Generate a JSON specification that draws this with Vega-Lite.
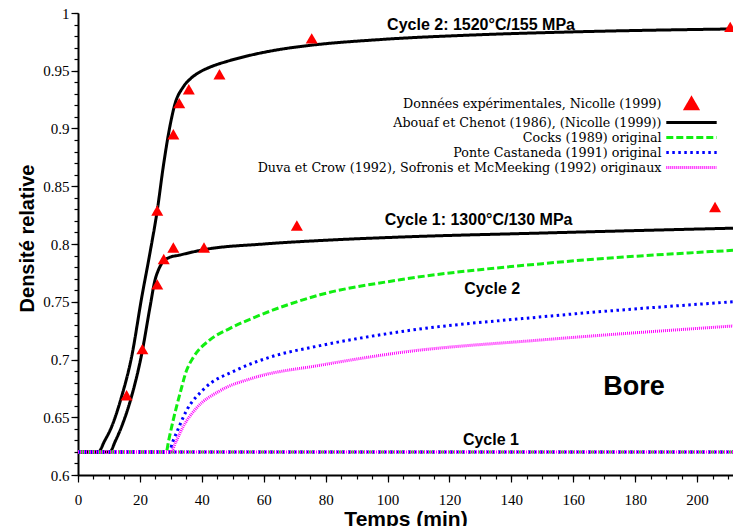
{
  "$schema": "https://vega.github.io/schema/vega-lite/v6.json",
  "width": 655,
  "height": 462,
  "autosize": {"type": "none"},
  "padding": {"left": 78, "top": 13, "right": 0, "bottom": 51},
  "background": "white",
  "config": {
    "view": {"stroke": null},
    "axis": {"grid": false, "ticks": true, "domainColor": "black", "domainWidth": 2, "tickColor": "black", "tickWidth": 1.2, "labelColor": "black", "titleColor": "black", "labelFont": "Liberation Serif", "labelFontSize": 15, "labelFontWeight": "normal", "titleFont": "Liberation Sans", "titleFontWeight": "bold", "titleFontSize": 20, "labelFlush": false, "labelOverlap": false}
  },
  "resolve": {"axis": {"x": "independent", "y": "independent"}},
  "datasets": {
    "curves": [
      {"m": "A", "c": 2, "t": 0, "d": 0.62},
      {"m": "A", "c": 2, "t": 6.6, "d": 0.62},
      {"m": "A", "c": 2, "t": 8.5, "d": 0.629},
      {"m": "A", "c": 2, "t": 10.9, "d": 0.642},
      {"m": "A", "c": 2, "t": 14.1, "d": 0.668},
      {"m": "A", "c": 2, "t": 17.3, "d": 0.702},
      {"m": "A", "c": 2, "t": 20.6, "d": 0.754},
      {"m": "A", "c": 2, "t": 23.3, "d": 0.793},
      {"m": "A", "c": 2, "t": 25.6, "d": 0.829},
      {"m": "A", "c": 2, "t": 27.6, "d": 0.868},
      {"m": "A", "c": 2, "t": 29.7, "d": 0.902},
      {"m": "A", "c": 2, "t": 31.3, "d": 0.921},
      {"m": "A", "c": 2, "t": 34, "d": 0.936},
      {"m": "A", "c": 2, "t": 36.5, "d": 0.9435},
      {"m": "A", "c": 2, "t": 39.4, "d": 0.949},
      {"m": "A", "c": 2, "t": 43, "d": 0.9535},
      {"m": "A", "c": 2, "t": 48, "d": 0.958},
      {"m": "A", "c": 2, "t": 55, "d": 0.963},
      {"m": "A", "c": 2, "t": 65.3, "d": 0.9685},
      {"m": "A", "c": 2, "t": 75, "d": 0.972},
      {"m": "A", "c": 2, "t": 97.6, "d": 0.977},
      {"m": "A", "c": 2, "t": 129.9, "d": 0.9812},
      {"m": "A", "c": 2, "t": 162.2, "d": 0.9838},
      {"m": "A", "c": 2, "t": 211.6, "d": 0.9862},
      {"m": "A", "c": 1, "t": 0, "d": 0.62},
      {"m": "A", "c": 1, "t": 10.3, "d": 0.62},
      {"m": "A", "c": 1, "t": 12, "d": 0.629},
      {"m": "A", "c": 1, "t": 14.1, "d": 0.642},
      {"m": "A", "c": 1, "t": 17.3, "d": 0.668},
      {"m": "A", "c": 1, "t": 20.6, "d": 0.705},
      {"m": "A", "c": 1, "t": 23.3, "d": 0.746},
      {"m": "A", "c": 1, "t": 24.9, "d": 0.769},
      {"m": "A", "c": 1, "t": 25.9, "d": 0.777},
      {"m": "A", "c": 1, "t": 27, "d": 0.783},
      {"m": "A", "c": 1, "t": 29.2, "d": 0.788},
      {"m": "A", "c": 1, "t": 33, "d": 0.7905},
      {"m": "A", "c": 1, "t": 40.5, "d": 0.795},
      {"m": "A", "c": 1, "t": 60, "d": 0.8},
      {"m": "A", "c": 1, "t": 78.2, "d": 0.803},
      {"m": "A", "c": 1, "t": 104, "d": 0.806},
      {"m": "A", "c": 1, "t": 150, "d": 0.8095},
      {"m": "A", "c": 1, "t": 211.6, "d": 0.8137},
      {"m": "C", "c": 2, "t": 0, "d": 0.62},
      {"m": "C", "c": 2, "t": 28.5, "d": 0.62},
      {"m": "C", "c": 2, "t": 29.3, "d": 0.63},
      {"m": "C", "c": 2, "t": 30.8, "d": 0.648},
      {"m": "C", "c": 2, "t": 33, "d": 0.671},
      {"m": "C", "c": 2, "t": 35, "d": 0.69},
      {"m": "C", "c": 2, "t": 37.3, "d": 0.702},
      {"m": "C", "c": 2, "t": 42.6, "d": 0.717},
      {"m": "C", "c": 2, "t": 49.1, "d": 0.727},
      {"m": "C", "c": 2, "t": 56.6, "d": 0.736},
      {"m": "C", "c": 2, "t": 78.2, "d": 0.756},
      {"m": "C", "c": 2, "t": 104, "d": 0.769},
      {"m": "C", "c": 2, "t": 150, "d": 0.783},
      {"m": "C", "c": 2, "t": 211.6, "d": 0.7945},
      {"m": "C", "c": 1, "t": 0, "d": 0.62},
      {"m": "C", "c": 1, "t": 211.6, "d": 0.62},
      {"m": "P", "c": 2, "t": 0, "d": 0.62},
      {"m": "P", "c": 2, "t": 29.5, "d": 0.62},
      {"m": "P", "c": 2, "t": 30.5, "d": 0.628},
      {"m": "P", "c": 2, "t": 31.9, "d": 0.637},
      {"m": "P", "c": 2, "t": 35.1, "d": 0.656},
      {"m": "P", "c": 2, "t": 40.5, "d": 0.674},
      {"m": "P", "c": 2, "t": 51.3, "d": 0.691},
      {"m": "P", "c": 2, "t": 62, "d": 0.702},
      {"m": "P", "c": 2, "t": 78.2, "d": 0.712},
      {"m": "P", "c": 2, "t": 104, "d": 0.724},
      {"m": "P", "c": 2, "t": 150, "d": 0.737},
      {"m": "P", "c": 2, "t": 211.6, "d": 0.75},
      {"m": "P", "c": 1, "t": 0, "d": 0.62},
      {"m": "P", "c": 1, "t": 211.6, "d": 0.62},
      {"m": "D", "c": 2, "t": 0, "d": 0.62},
      {"m": "D", "c": 2, "t": 30, "d": 0.62},
      {"m": "D", "c": 2, "t": 31.5, "d": 0.628},
      {"m": "D", "c": 2, "t": 34, "d": 0.642},
      {"m": "D", "c": 2, "t": 38.3, "d": 0.658},
      {"m": "D", "c": 2, "t": 45.9, "d": 0.673},
      {"m": "D", "c": 2, "t": 56.6, "d": 0.684},
      {"m": "D", "c": 2, "t": 78.2, "d": 0.695},
      {"m": "D", "c": 2, "t": 104, "d": 0.706},
      {"m": "D", "c": 2, "t": 150, "d": 0.717},
      {"m": "D", "c": 2, "t": 211.6, "d": 0.729},
      {"m": "D", "c": 1, "t": 0, "d": 0.62},
      {"m": "D", "c": 1, "t": 211.6, "d": 0.62}
    ],
    "exp": [
      {"m": "E", "t": 15.7, "d": 0.669},
      {"m": "E", "t": 20.8, "d": 0.709},
      {"m": "E", "t": 25.6, "d": 0.765},
      {"m": "E", "t": 25.6, "d": 0.829},
      {"m": "E", "t": 27.7, "d": 0.787},
      {"m": "E", "t": 30.8, "d": 0.797},
      {"m": "E", "t": 30.8, "d": 0.895},
      {"m": "E", "t": 32.7, "d": 0.922},
      {"m": "E", "t": 35.8, "d": 0.934},
      {"m": "E", "t": 40.7, "d": 0.797},
      {"m": "E", "t": 45.7, "d": 0.947},
      {"m": "E", "t": 70.7, "d": 0.816},
      {"m": "E", "t": 75.5, "d": 0.978},
      {"m": "E", "t": 205.8, "d": 0.832},
      {"m": "E", "t": 210.7, "d": 0.988}
    ],
    "labels": [
      {"t": 130.2, "d": 0.99, "txt": "Cycle 2: 1520°C/155 MPa"},
      {"t": 129.4, "d": 0.8208, "txt": "Cycle 1: 1300°C/130 MPa"},
      {"t": 133.8, "d": 0.761, "txt": "Cycle 2"},
      {"t": 133.4, "d": 0.6303, "txt": "Cycle 1"}
    ],
    "material": [
      {"t": 179.6, "d": 0.676, "txt": "Bore"}
    ]
  },
  "layer": [
    {
      "data": {"name": "curves"},
      "mark": {"type": "line", "interpolate": "monotone", "clip": true},
      "encoding": {
        "x": {
          "field": "t", "type": "quantitative",
          "scale": {"domain": [0, 211.6], "nice": false, "zero": false},
          "axis": {
            "orient": "bottom",
            "title": "Temps (min)",
            "values": [0, 20, 40, 60, 80, 100, 120, 140, 160, 180, 200],
            "format": "d",
            "tickSize": 7,
            "encode": {"ticks": {"update": {"y2": {"value": -7}}}},
            "labelPadding": 10,
            "labelOverlap": false,
            "titleFontSize": 21,
            "titleY": 50,
            "titleBaseline": "alphabetic"
          }
        },
        "y": {
          "field": "d", "type": "quantitative",
          "scale": {"domain": [0.6, 1], "nice": false, "zero": false},
          "axis": {
            "orient": "left",
            "title": "Densité relative",
            "values": [0.6, 0.65, 0.7, 0.75, 0.8, 0.85, 0.9, 0.95, 1],
            "format": ".2~f",
            "tickSize": 7,
            "encode": {"ticks": {"update": {"x2": {"value": 7}}}},
            "labelPadding": 2,
            "labelOverlap": false,
            "titleX": -45,
            "titleY": 225,
            "titleBaseline": "alphabetic"
          }
        },
        "color": {
          "field": "m", "type": "nominal",
          "scale": {"domain": ["E", "A", "C", "P", "D"], "range": ["#ff0000", "#000000", "#11ee11", "#0000ff", "#ff00ff"]},
          "legend": {
            "orient": "none", "legendX": 606, "legendY": 83,
            "title": null, "padding": 0, "offset": 0, "rowPadding": 0,
            "labelFont": "DejaVu Serif", "labelFontSize": 12.7, "labelColor": "black",
            "labelAlign": "right", "labelOffset": -37.5, "labelLimit": 500,
            "labelExpr": "datum.value === 'E' ? 'Données expérimentales, Nicolle (1999)' : datum.value === 'A' ? 'Abouaf et Chenot (1986), (Nicolle (1999))' : datum.value === 'C' ? 'Cocks (1989) original' : datum.value === 'P' ? 'Ponte Castaneda (1991) original' : 'Duva et Crow (1992), Sofronis et McMeeking (1992) originaux'",
            "encode": {
              "symbols": {
                "update": {
                  "shape": {"signal": "datum.value === 'E' ? 'triangle-up' : 'M-4.2,0H4.2'"},
                  "size": {"value": 144},
                  "fill": {"signal": "datum.value === 'E' ? '#ff0000' : 'transparent'"},
                  "stroke": {"signal": "datum.value === 'E' ? 'transparent' : scale('color', datum.value)"},
                  "strokeWidth": {"signal": "datum.value === 'D' ? 2 : 3"},
                  "strokeDash": {"signal": "datum.value === 'C' ? [7,3] : datum.value === 'P' ? [2.5,3.5] : datum.value === 'D' ? [1,1] : [1,0]"},
                  "opacity": {"value": 1}
                }
              }
            }
          }
        },
        "strokeDash": {
          "field": "m", "type": "nominal",
          "scale": {"domain": ["E", "A", "C", "P", "D"], "range": [[1, 0], [1, 0], [7, 3], [2.5, 3.5], [1, 1]]},
          "legend": null
        },
        "strokeWidth": {
          "field": "m", "type": "ordinal",
          "scale": {"domain": ["E", "A", "C", "P", "D"], "range": [3, 3, 3, 3, 2]},
          "legend": null
        },
        "detail": {"field": "c", "type": "nominal"}
      }
    },
    {
      "data": {"name": "exp"},
      "mark": {"type": "point", "shape": "triangle-up", "filled": true, "size": 144, "opacity": 1},
      "encoding": {
        "x": {"field": "t", "type": "quantitative", "axis": null},
        "y": {"field": "d", "type": "quantitative", "axis": null},
        "color": {"field": "m", "type": "nominal"}
      }
    },
    {
      "data": {"name": "labels"},
      "mark": {"type": "text", "font": "Liberation Sans", "fontWeight": "bold", "fontSize": 16, "baseline": "middle", "align": "center", "color": "black"},
      "encoding": {
        "x": {
          "field": "t", "type": "quantitative",
          "axis": {
            "orient": "bottom", "title": null, "labels": false, "domain": false,
            "values": [0,5,10,15,20,25,30,35,40,45,50,55,60,65,70,75,80,85,90,95,100,105,110,115,120,125,130,135,140,145,150,155,160,165,170,175,180,185,190,195,200,205,210],
            "tickSize": 4,
            "encode": {"ticks": {"update": {"y2": {"value": -4}}}}
          }
        },
        "y": {
          "field": "d", "type": "quantitative",
          "axis": {
            "orient": "left", "title": null, "labels": false, "domain": false,
            "values": [0.6,0.61,0.62,0.63,0.64,0.65,0.66,0.67,0.68,0.69,0.7,0.71,0.72,0.73,0.74,0.75,0.76,0.77,0.78,0.79,0.8,0.81,0.82,0.83,0.84,0.85,0.86,0.87,0.88,0.89,0.9,0.91,0.92,0.93,0.94,0.95,0.96,0.97,0.98,0.99,1],
            "tickSize": 4,
            "encode": {"ticks": {"update": {"x2": {"value": 4}}}}
          }
        },
        "text": {"field": "txt"}
      }
    },
    {
      "data": {"name": "material"},
      "mark": {"type": "text", "font": "Liberation Sans", "fontWeight": "bold", "fontSize": 27, "baseline": "middle", "align": "center", "color": "black"},
      "encoding": {
        "x": {"field": "t", "type": "quantitative", "axis": null},
        "y": {"field": "d", "type": "quantitative", "axis": null},
        "text": {"field": "txt"}
      }
    }
  ]
}
